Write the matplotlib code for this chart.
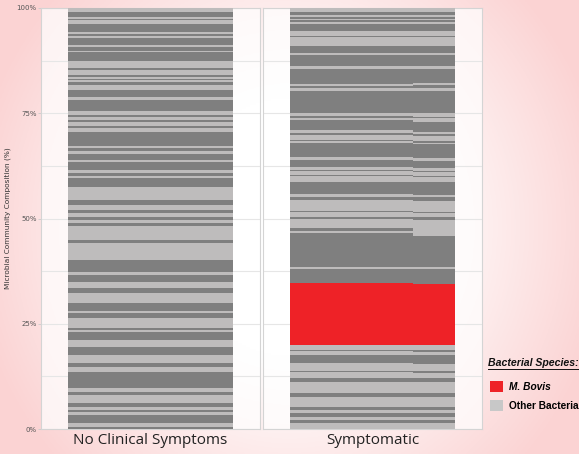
import numpy as np
import matplotlib.pyplot as plt
from matplotlib.patches import Patch
from matplotlib.lines import Line2D

# relative abundances, listed top of bar -> bottom ("L" light, "D" dark, "M" M. bovis)
no_symptoms_vals = [4.0, 5.0, 2.2, 1.0, 3.8, 8.0, 2.0, 2.3, 1.7, 7.4, 1.3, 4.0, 1.7, 8.3,
                    7.3, 1.7, 5.7, 1.3, 2.0, 1.5, 1.8, 2.7, 5.0, 7.7, 2.3, 11.7, 3.3, 2.3,
                    2.7, 2.7, 4.0, 1.6, 4.4, 14.0, 1.6, 2.7, 3.0, 6.0, 2.3, 7.7, 3.3, 2.4,
                    2.6, 8.4, 13.3, 5.0, 5.0, 3.3, 3.4, 3.3, 3.3, 2.7, 14.0, 3.3, 16.7,
                    11.7, 3.3, 6.7, 6.0, 5.6, 10.0, 7.7, 2.3, 5.0, 10.0, 1.7, 1.7, 8.3,
                    6.7, 8.3, 8.3, 3.4, 5.6, 16.0, 3.4, 3.3, 8.3, 3.4, 3.3, 1.7, 3.3, 8.3,
                    3.4, 2.3]
no_symptoms_kind = list("LD" * 42)

sympt_a_vals = [4.0, 2.7, 2.3, 1.7, 1.5, 2.0, 2.0, 7.2, 4.3, 1.0, 9.7, 6.6, 2.4, 11.0,
                2.3, 15.0, 2.0, 2.3, 3.4, 21.6, 2.7, 2.0, 2.7, 10.0, 2.6, 1.7, 5.0, 1.7,
                1.3, 13.7, 3.3, 6.7, 3.3, 1.0, 4.0, 1.0, 5.7, 12.6, 2.4, 3.3, 11.0, 1.5,
                4.2, 2.3, 9.3, 2.7, 2.3, 33.4, 2.3, 14.3,
                61.7,
                5.0, 1.5, 3.5, 8.3, 7.7, 1.5, 5.8, 3.4, 11.6, 3.4, 10.0, 3.3, 3.3, 3.4,
                3.3, 3.3, 5.7]
sympt_a_kind = list("LD" * 25 + "M" + "LD" * 8 + "L")

sympt_b_vals = [4.0, 2.7, 2.3, 1.7, 1.5, 2.0, 2.0, 7.2, 4.3, 1.0, 9.7, 6.6, 2.4, 11.0,
                2.3, 15.0, 2.0, 2.3, 3.4, 21.6, 4.0, 1.5, 3.5, 10.0, 2.6, 1.7, 5.0, 1.7,
                1.3, 13.7, 3.3, 6.7, 3.3, 1.0, 4.0, 1.0, 5.7, 12.6, 2.4, 3.3, 11.0, 1.5,
                4.2, 2.3, 16.0, 31.7, 2.3, 14.3,
                61.7,
                5.0, 1.5, 3.5, 8.3, 7.7, 1.5, 5.8, 3.4, 11.6, 3.4, 10.0, 3.3, 3.3, 3.4,
                3.3, 3.3, 5.7]
sympt_b_kind = list("LD" * 24 + "M" + "LD" * 8 + "L")

# share of the bar width taken by the two symptomatic samples
sympt_widths = [122, 42]

panel_titles = ["No Clinical Symptoms", "Symptomatic"]
yticks = [0, 25, 50, 75, 100]
ytick_labels = ["0%", "25%", "50%", "75%", "100%"]

colors = {"L": "#bebcbc", "D": "#7f7f7f", "M": "#ee2227"}

W, H = 579, 454
fig = plt.figure(figsize=(W / 100, H / 100), dpi=100)

# pink vignette background
bg = fig.add_axes([0, 0, 1, 1], zorder=-10)
gx, gy = np.meshgrid(np.linspace(-1, 1, 300), np.linspace(-1, 1, 240))
r = np.clip(np.sqrt((gx * 0.95) ** 2 + (gy * 0.7) ** 2), 0, 1.2)
t = np.clip((r - 0.4) / 0.65, 0, 1)
white = np.array([1.0, 1.0, 1.0])
pink = np.array([0.985, 0.83, 0.83])
img = white[None, None, :] * (1 - t[..., None]) + pink[None, None, :] * t[..., None]
bg.imshow(img, aspect="auto", extent=[0, 1, 0, 1])
bg.axis("off")


def stack(ax, vals, kinds, x0, width):
    vals = np.array(vals, dtype=float)[::-1]
    kinds = kinds[::-1]
    pct = vals / vals.sum() * 100
    bottoms = np.concatenate([[0], np.cumsum(pct)[:-1]])
    ax.bar([x0] * len(pct), pct, width=width, bottom=bottoms, align="edge",
           color=[colors[k] for k in kinds], linewidth=0, zorder=3)


def style(ax):
    ax.set_facecolor((1, 1, 1, 0.72))
    ax.set_xlim(0.4, 1.6)
    ax.set_ylim(0, 100)
    ax.set_xticks([])
    ax.set_yticks(yticks)
    ax.set_yticks([12.5, 37.5, 62.5, 87.5], minor=True)
    ax.grid(axis="y", which="both", color="#e6e6e6", linewidth=0.8, zorder=0)
    ax.tick_params(axis="y", which="minor", length=0)
    ax.tick_params(axis="y", length=2, pad=1, color="#cccccc", width=0.6)
    for s in ax.spines.values():
        s.set_color("#d4d4d4")
        s.set_linewidth(0.8)


ax1 = fig.add_axes([41 / W, 25 / H, 219 / W, 421 / H])
ax2 = fig.add_axes([263 / W, 25 / H, 219 / W, 421 / H])
style(ax1)
style(ax2)

stack(ax1, no_symptoms_vals, no_symptoms_kind, 0.55, 0.9)
wa = 0.9 * sympt_widths[0] / sum(sympt_widths)
stack(ax2, sympt_a_vals, sympt_a_kind, 0.55, wa)
stack(ax2, sympt_b_vals, sympt_b_kind, 0.55 + wa, 0.9 - wa)

ax1.set_yticklabels(ytick_labels, fontsize=5, color="#555555")
ax2.set_yticklabels([])
ax2.tick_params(axis="y", length=0)
ax1.set_ylabel("Microbial Community Composition (%)", fontsize=5.3, color="#333333")
ax1.yaxis.set_label_coords(-0.135, 0.5)

for ax, title in zip([ax1, ax2], panel_titles):
    ax.set_xlabel(title, fontsize=11, family="Open Sans", color="#222222", labelpad=3)

# legend
handles = [Patch(facecolor=colors["M"], edgecolor="none"),
           Patch(facecolor="#c8c8c8", edgecolor="none")]
leg = fig.legend(handles, ["M. Bovis", "Other Bacteria"], loc="upper left",
                 bbox_to_anchor=(486 / W, (H - 377) / H), frameon=False,
                 prop={"family": "Liberation Sans", "weight": "bold", "size": 7.3},
                 handlelength=1.3, handleheight=1.3, labelspacing=0.75,
                 handletextpad=0.6, borderaxespad=0)
leg.get_texts()[0].set_style("italic")
fig.text(488 / W, (H - 366) / H, "Bacterial Species:", fontsize=7.6, weight="bold",
         style="italic", family="Liberation Sans", color="#111111", va="baseline")
fig.add_artist(Line2D([488 / W, 579 / W], [(H - 368.5) / H] * 2, color="#111111",
                      linewidth=0.7))

fig.savefig("out.png", dpi=100)
